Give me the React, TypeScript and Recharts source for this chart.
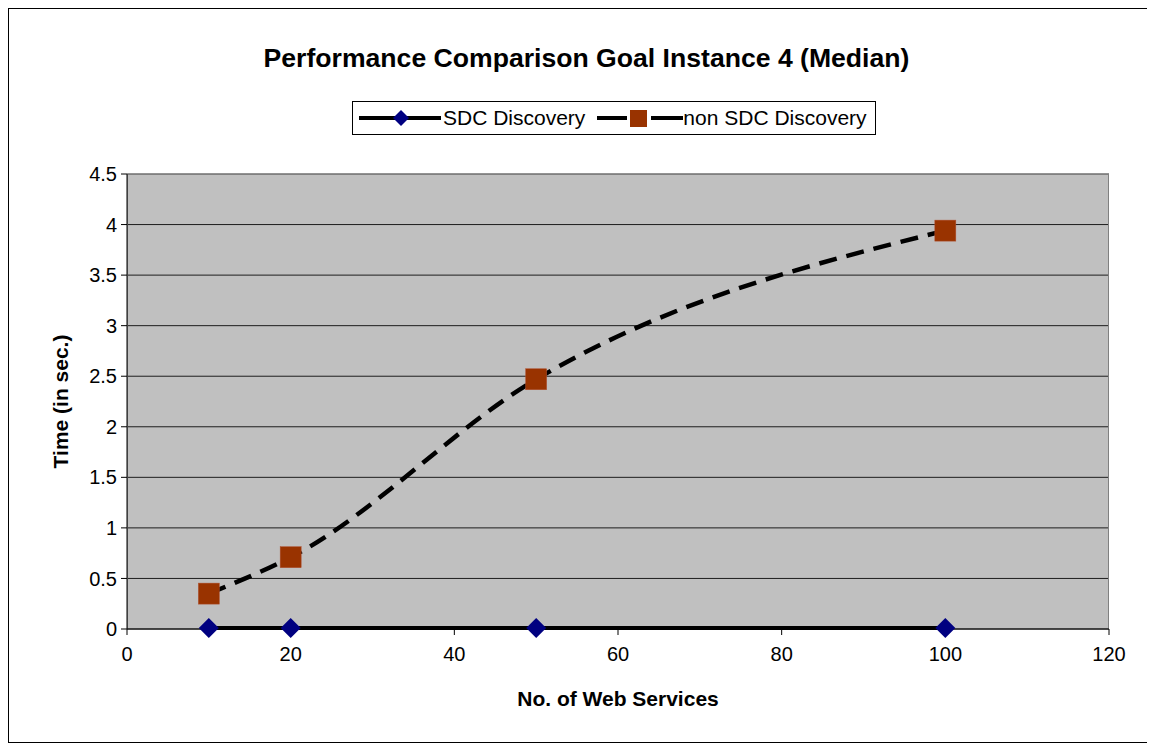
import { LineChart, Line, XAxis, YAxis, CartesianGrid, ReferenceArea } from 'recharts';

const services = [10, 20, 50, 100];
const sdcTimes = [0.01, 0.01, 0.01, 0.01];
const nonSdcTimes = [0.35, 0.71, 2.47, 3.94];
const xTicks = [0, 20, 40, 60, 80, 100, 120];
const yTicks = [0, 0.5, 1, 1.5, 2, 2.5, 3, 3.5, 4, 4.5];

const data = services.map((s, i) => ({ n: s, sdc: sdcTimes[i], nonSdc: nonSdcTimes[i] }));

const FONT = '"Liberation Sans", Arial, sans-serif';

const Diamond = (props: any) => {
  const { cx, cy } = props;
  if (cx == null || cy == null) return null;
  const r = 10;
  return (
    <path
      d={`M${cx},${cy - r} L${cx + r},${cy} L${cx},${cy + r} L${cx - r},${cy} Z`}
      fill="#000080"
    />
  );
};

const Square = (props: any) => {
  const { cx, cy } = props;
  if (cx == null || cy == null) return null;
  const s = 21;
  return <rect x={cx - s / 2} y={cy - s / 2} width={s} height={s} fill="#993300" stroke="#b05030" strokeWidth={0.5} />;
};

const fmtY = (v: number) => String(v);

export default function App() {
  return (
    <div
      style={{
        position: 'relative',
        width: 1145,
        height: 733,
        border: '1px solid #000',
        background: '#fff',
        fontFamily: FONT,
      }}
    >
      <div
        style={{
          position: 'absolute',
          top: 34,
          left: 0,
          width: '100%',
          textAlign: 'center',
          fontSize: 26.6,
          fontWeight: 'bold',
          paddingLeft: 10,
          boxSizing: 'border-box',
        }}
      >
        Performance Comparison Goal Instance 4 (Median)
      </div>
      <div
        style={{
          position: 'absolute',
          top: 92,
          left: 343,
          width: 524,
          height: 34,
          border: '1px solid #000',
          boxSizing: 'border-box',
          display: 'flex',
          alignItems: 'center',
          fontSize: 21,
          paddingLeft: 4,
          whiteSpace: 'nowrap',
        }}
      >
        <svg width={86} height={22}>
          <line x1={2} y1={11} x2={84} y2={11} stroke="#000" strokeWidth={4} />
          <path d="M44,3 L52,11 L44,19 L36,11 Z" fill="#000080" />
        </svg>
        <span>SDC Discovery</span>
        <svg width={86} height={22} style={{ marginLeft: 12 }}>
          <line x1={0} y1={11} x2={30} y2={11} stroke="#000" strokeWidth={4} />
          <rect x={33} y={3} width={17} height={17} fill="#993300" />
          <line x1={54} y1={11} x2={86} y2={11} stroke="#000" strokeWidth={4} />
        </svg>
        <span>non SDC Discovery</span>
      </div>
      <LineChart
        width={1145}
        height={733}
        data={data}
        margin={{ top: 165, right: 45, bottom: 0, left: 58 }}
        style={{ fontFamily: FONT }}
      >
        <CartesianGrid horizontal vertical={false} stroke="#000" strokeWidth={1} strokeOpacity={0.85} fill="#c0c0c0" fillOpacity={1} />
        <ReferenceArea x1={0} x2={120} y1={0} y2={4.5} fill="none" stroke="#808080" strokeWidth={2} ifOverflow="hidden" />
        <XAxis
          type="number"
          dataKey="n"
          domain={[0, 120]}
          ticks={xTicks}
          stroke="#000"
          tick={{ fill: '#000', fontSize: 20 }}
          tickSize={6}
          tickMargin={12}
          label={{ value: 'No. of Web Services', position: 'insideBottom', offset: 36, fill: '#000', fontSize: 21, fontWeight: 'bold' }}
          height={113}
        />
        <YAxis
          type="number"
          domain={[0, 4.5]}
          ticks={yTicks}
          tickFormatter={fmtY}
          stroke="#000"
          tick={{ fill: '#000', fontSize: 20 }}
          tickSize={6}
          tickMargin={4}
          width={60}
          label={{ value: 'Time (in sec.)', angle: -90, position: 'insideLeft', offset: -6, fill: '#000', fontSize: 21, fontWeight: 'bold', style: { textAnchor: 'middle' } }}
        />
        <Line
          type="monotone"
          dataKey="sdc"
          stroke="#000"
          strokeWidth={4}
          dot={<Diamond />}
          activeDot={false}
          isAnimationActive={false}
        />
        <Line
          type="monotone"
          dataKey="nonSdc"
          stroke="#000"
          strokeWidth={4.5}
          strokeDasharray="18 10"
          dot={<Square />}
          activeDot={false}
          isAnimationActive={false}
        />
      </LineChart>
    </div>
  );
}
